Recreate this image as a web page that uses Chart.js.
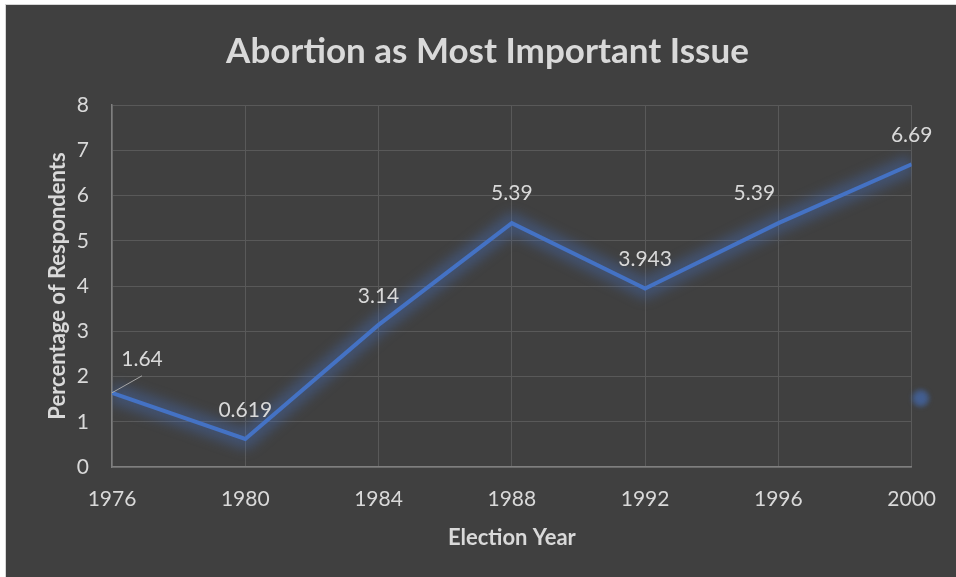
<!DOCTYPE html>
<html>
<head>
<meta charset="utf-8">
<script src="https://cdn.jsdelivr.net/npm/chart.js@4.4.1/dist/chart.umd.min.js"></script>
<style>
  html, body { margin: 0; padding: 0; background: #fff; }
  #wrap {
    position: absolute; left: 5px; top: 4px;
    width: 950px; height: 572px;
    border-left: 1px solid #d6d6d6; border-top: 1px solid #d6d6d6;
    background: #404040;
  }
</style>
</head>
<body>
<div id="wrap"><canvas id="chart"></canvas></div>
<script>
// election years and share of respondents naming abortion
const years = [1976, 1980, 1984, 1988, 1992, 1996, 2000];
const percentages = [1.64, 0.619, 3.14, 5.39, 3.943, 5.39, 6.69];
// loose marker sitting just right of the plot
const strayPoint = [{ x: 2000.27, y: 1.52 }];

const yMin = 0, yMax = 8, yStep = 1;
const xStep = 4;

// label offsets from each point (px)
const labelShift = [[30, -34], [0, -29], [0, -29], [0, -30], [0, -29], [-24, -30], [0, -29]];

const TEXT = '#d9d9d9';
const LINE = '#4472C4';

// soft glow behind the line and the loose marker
const glowPlugin = {
  id: 'glow',
  beforeDatasetDraw(chart, args) {
    const ctx = chart.ctx;
    if (args.index === 0) {
      const a = chart.chartArea;
      const pts = args.meta.data;
      ctx.save();
      ctx.beginPath();
      ctx.rect(a.left, a.top, a.right - a.left, a.bottom - a.top);
      ctx.clip();
      ctx.filter = 'blur(6px)';
      ctx.strokeStyle = 'rgba(68,114,196,0.36)';
      ctx.lineWidth = 20;
      ctx.lineJoin = 'round';
      ctx.beginPath();
      pts.forEach((p, i) => (i ? ctx.lineTo(p.x, p.y) : ctx.moveTo(p.x, p.y)));
      ctx.stroke();
      ctx.restore();
      ctx.save();
    } else {
      ctx.save();
      ctx.filter = 'blur(2.5px)';
    }
  },
  afterDatasetDraw(chart) {
    chart.ctx.restore();
  }
};

const labelPlugin = {
  id: 'valueLabels',
  afterDatasetsDraw(chart) {
    const ctx = chart.ctx;
    const pts = chart.getDatasetMeta(0).data;
    ctx.save();
    ctx.font = '21px Lato';
    ctx.fillStyle = TEXT;
    ctx.textAlign = 'center';
    ctx.textBaseline = 'middle';
    pts.forEach((p, i) => {
      const [dx, dy] = labelShift[i];
      if (i === 0) {
        // leader line for the moved first label
        ctx.strokeStyle = '#a6a6a6';
        ctx.lineWidth = 1;
        ctx.beginPath();
        ctx.moveTo(p.x, p.y);
        ctx.lineTo(p.x + dx, p.y + dy + 17);
        ctx.stroke();
      }
      ctx.fillText(String(percentages[i]), p.x + dx, p.y + dy);
    });
    ctx.restore();
  }
};

Chart.defaults.font.family = 'Lato';
Chart.defaults.color = TEXT;

// left padding nudges the title right; the y axis box shrinks by the same amount
const padLeft = 56;

new Chart(document.getElementById('chart'), {
  type: 'line',
  data: {
    datasets: [
      {
        data: years.map((y, i) => ({ x: y, y: percentages[i] })),
        borderColor: LINE,
        borderWidth: 4,
        pointRadius: 0,
        tension: 0
      },
      {
        type: 'scatter',
        data: strayPoint,
        backgroundColor: 'rgba(68,114,196,0.6)',
        borderColor: 'rgba(68,114,196,0.35)',
        borderWidth: 3,
        pointRadius: 7,
        clip: false
      }
    ]
  },
  options: {
    responsive: true,
    maintainAspectRatio: false,
    animation: false,
    layout: { padding: { left: padLeft, right: 43, top: 0, bottom: 0 } },
    plugins: {
      legend: { display: false },
      tooltip: { enabled: false },
      title: {
        display: true,
        text: 'Abortion as Most Important Issue',
        color: TEXT,
        font: { size: 35, weight: 'bold' },
        padding: { top: 26, bottom: 32 }
      }
    },
    scales: {
      x: {
        type: 'linear',
        min: years[0],
        max: years[years.length - 1],
        afterFit: (s) => { s.height = 110; },
        ticks: {
          stepSize: xStep,
          font: { size: 21 },
          color: TEXT,
          padding: 20,
          callback: (v) => String(v)
        },
        grid: { color: '#595959', lineWidth: 1, drawTicks: false },
        border: { color: '#7f7f7f', width: 1.5 },
        title: {
          display: true,
          text: 'Election Year',
          color: TEXT,
          font: { size: 22, weight: 'bold' },
          padding: { top: 0, bottom: 26 }
        }
      },
      y: {
        min: yMin,
        max: yMax,
        afterFit: (s) => { s.width = 106 - padLeft; },
        ticks: { stepSize: yStep, font: { size: 21 }, color: TEXT, padding: 23 },
        grid: { color: '#595959', lineWidth: 1, drawTicks: false },
        border: { color: '#7f7f7f', width: 1.5 },
        title: {
          display: true,
          text: 'Percentage of Respondents',
          color: TEXT,
          font: { size: 22, weight: 'bold' },
          padding: { top: 39 - padLeft, bottom: 0 }
        }
      }
    }
  },
  plugins: [glowPlugin, labelPlugin]
});
</script>
</body>
</html>
